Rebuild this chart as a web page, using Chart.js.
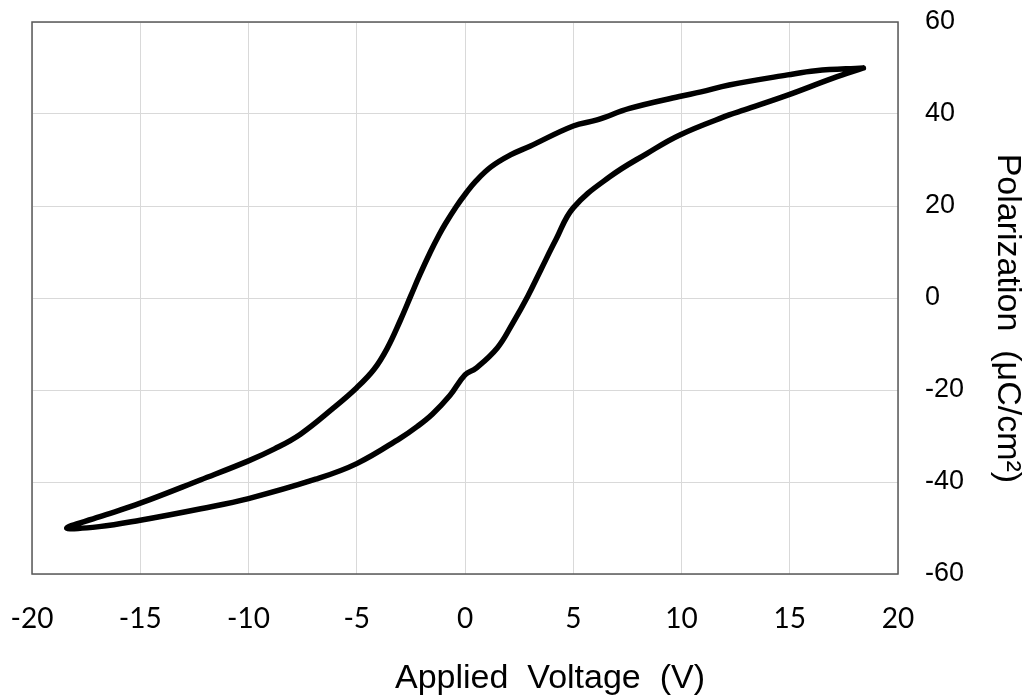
<!DOCTYPE html>
<html>
<head>
<meta charset="utf-8">
<script src="https://cdn.jsdelivr.net/npm/chart.js@4"></script>
<style>
	html, body { margin: 0; padding: 0; background: #fff; }
</style>
</head>
<body>
<canvas id="loop" width="1028" height="700"></canvas>
<script>
// hysteresis loop
// upper branch: from +Vmax down to -Vmax
const upperV = [18.4, 16.2, 14.9, 12.2, 10.9, 9.9, 7.6, 6.1, 5.0, 3.0, 2.1, 1.2, 0.5, 0.0, -0.4, -0.9, -1.2, -1.6, -2.1, -2.5, -3.0, -3.6, -4.2, -5.0, -6.1, -7.6, -8.8, -10.0, -12.2, -15.0, -16.9, -18.4];
const upperP = [50.0, 49.4, 48.5, 46.3, 44.8, 43.8, 41.2, 38.7, 37.4, 33.0, 31.1, 28.5, 25.4, 22.5, 19.9, 16.2, 13.7, 10.0, 4.9, 0.5, -5.0, -11.0, -15.5, -19.5, -24.0, -29.6, -32.8, -35.4, -39.5, -44.6, -47.6, -50.0];
// lower branch: from -Vmax back up to +Vmax
const lowerV = [-16.9, -15.0, -12.2, -10.0, -6.9, -5.0, -3.0, -2.2, -1.5, -0.7, 0.0, 0.5, 1.5, 2.2, 2.9, 3.5, 4.2, 5.0, 6.7, 8.4, 9.9, 12.2, 12.9, 14.9, 17.0, 18.4];
const lowerP = [-49.7, -48.3, -45.8, -43.6, -39.4, -36.0, -30.5, -27.9, -25.2, -21.2, -16.7, -15.3, -10.8, -5.5, 0.4, 6.1, 12.7, 19.6, 26.4, 31.4, 35.4, 39.8, 40.9, 44.1, 47.8, 50.0];

// leading em spaces push the titles off the plot centre, as in the original
const xTitle = '\u2003\u2003\u2003\u2003\u2003Applied  Voltage  (V)';
const yTitle = '\u2003\u2009Polarization  (\u03bcC/cm\u00b2)';

var points = [];
for (var i = 0; i < upperV.length; i++) points.push({x: upperV[i], y: upperP[i]});
for (var j = 0; j < lowerV.length; j++) points.push({x: lowerV[j], y: lowerP[j]});

// box round the plot area
const frame = {
	id: 'frame',
	beforeDatasetsDraw(chart) {
		const {ctx, chartArea: a} = chart;
		ctx.save();
		ctx.strokeStyle = '#595959';
		ctx.lineWidth = 1.5;
		ctx.strokeRect(a.left, a.top, a.right - a.left, a.bottom - a.top);
		ctx.restore();
	}
};

var ctx = document.getElementById("loop").getContext("2d");
var loopChart = new Chart(ctx, {
	type: 'scatter',
	data: {
		datasets: [{
			data: points,
			showLine: true,
			borderColor: '#000',
			borderWidth: 5.5,
			borderJoinStyle: 'round',
			borderCapStyle: 'round',
			tension: 0.4,
			pointRadius: 0
		}]
	},
	options: {
		responsive: false,
		animation: false,
		layout: {
			padding: {left: 32, top: 22, right: 0, bottom: 0}
		},
		plugins: {
			legend: { display: false },
			tooltip: { enabled: false }
		},
		scales: {
			x: {
				type: 'linear',
				min: -20,
				max: 20,
				afterFit: function (s) {
					s.height = 126;
					s.paddingLeft = 0;
					s.paddingRight = 0;
				},
				grid: { color: '#d9d9d9', lineWidth: 1, drawTicks: false },
				border: { display: false },
				ticks: {
					stepSize: 5,
					padding: 28,
					color: '#000',
					font: { family: 'Lato', size: 28 }
				},
				title: {
					display: true,
					text: xTitle,
					color: '#000',
					font: { family: 'Liberation Sans', size: 34 },
					padding: { top: 0, bottom: 1 }
				}
			},
			y: {
				type: 'linear',
				position: 'right',
				min: -60,
				max: 60,
				afterFit: function (s) {
					s.width = 130;
					s.paddingTop = 0;
					s.paddingBottom = 0;
				},
				grid: { color: '#d9d9d9', lineWidth: 1, drawTicks: false },
				border: { display: false },
				ticks: {
					stepSize: 20,
					padding: 27,
					color: '#000',
					font: { family: 'Liberation Sans', size: 27 }
				},
				title: {
					display: true,
					text: yTitle,
					color: '#000',
					font: { family: 'Liberation Sans', size: 34 },
					padding: { top: 0, bottom: 1 }
				}
			}
		}
	},
	plugins: [frame]
});
</script>
</body>
</html>
